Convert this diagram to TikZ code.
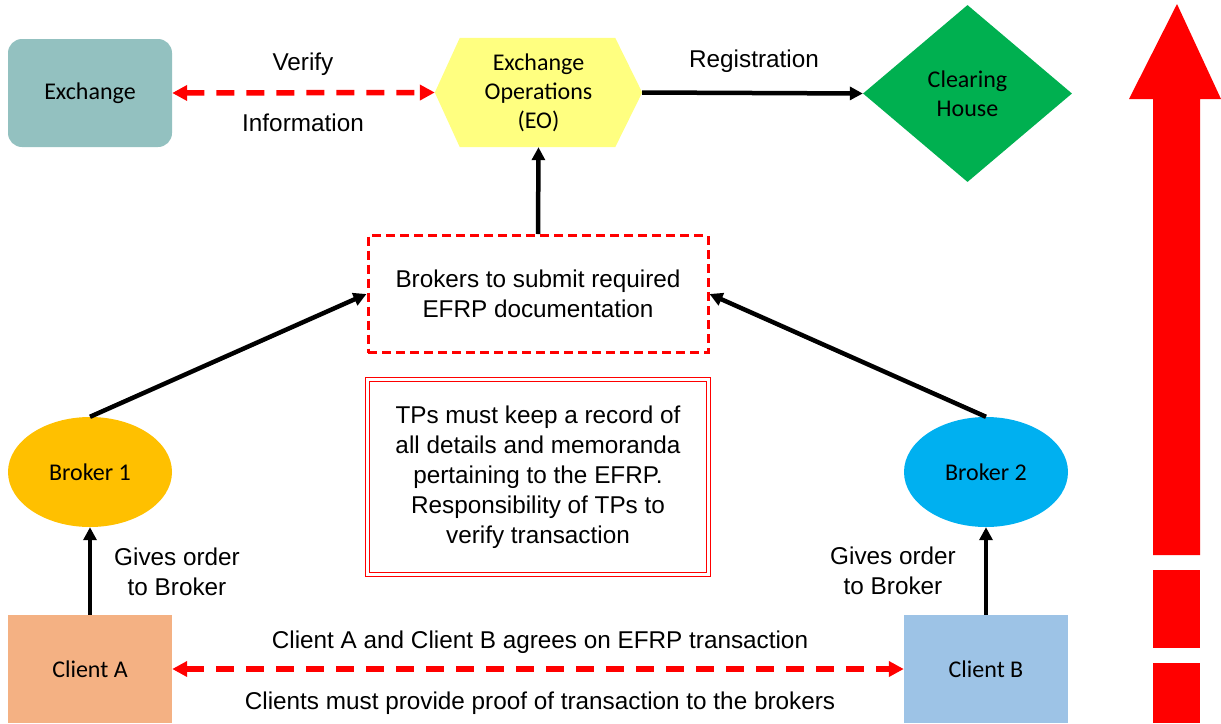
\documentclass[tikz,border=0pt]{standalone}
\usepackage{fontspec}
\setmainfont{Liberation Sans}
\newfontfamily\calfont{Carlito}
\usetikzlibrary{shapes.geometric,arrows.meta}
\definecolor{exch}{HTML}{93C1C0}
\definecolor{eoy}{HTML}{FFFF80}
\definecolor{chg}{HTML}{00B050}
\definecolor{bro1}{HTML}{FFC000}
\definecolor{bro2}{HTML}{00B0F0}
\definecolor{cla}{HTML}{F4B183}
\definecolor{clb}{HTML}{9DC3E6}
\definecolor{redd}{HTML}{FF0000}
\tikzset{
  shapetext/.style={font=\calfont\fontsize{24}{29}\selectfont, align=center, text=black, inner sep=0pt},
  labeltext/.style={font=\fontsize{24.3}{30}\selectfont, align=center, text=black, inner sep=0pt},
  blackarrow/.style={draw=black, line width=4.5pt, -{Triangle[length=13pt,width=13pt]}},
  redarrow/.style={draw=redd, line width=5.5pt, dash pattern=on 18pt off 12pt, {Triangle[length=15pt,width=15pt]}-{Triangle[length=15pt,width=15pt]}},
  clientbox/.style={shapetext, rectangle, minimum width=164pt, minimum height=108pt},
  brokerell/.style={shapetext, ellipse, minimum width=164pt, minimum height=110pt},
}
\begin{document}
\begin{tikzpicture}[x=1pt,y=-1pt]
\useasboundingbox (0,0) rectangle (1221,723);
% Exchange
\node[shapetext, rectangle, rounded corners=14pt, fill=exch, minimum width=164pt, minimum height=108pt] (exchange) at (90,93) {Exchange};
% Exchange Operations hexagon
\node[shapetext, rectangle, minimum width=207pt, minimum height=109pt] (eo) at (538.5,92.5) {};
\fill[eoy] (eo.west) -- ([xshift=25pt]eo.north west) -- ([xshift=-27pt]eo.north east) -- (eo.east) -- ([xshift=-27pt]eo.south east) -- ([xshift=25pt]eo.south west) -- cycle;
\node[shapetext] (eotext) at (eo.center) {Exchange\\Operations\\(EO)};
% Clearing house
\node[shapetext, diamond, fill=chg, minimum width=209pt, minimum height=177pt] (ch) at (967.5,93.5) {Clearing\\House};
% Brokers box
\node[labeltext, rectangle, draw=redd, line width=3pt, dash pattern=on 9pt off 5pt, minimum width=340pt, minimum height=117pt] (submit) at (538,294) {Brokers to submit required\\EFRP documentation};
% TPs box
\node[labeltext, rectangle, draw=redd, line width=1.8pt, double=white, double distance=2.2pt, minimum width=341pt, minimum height=195pt] (tps) at (538,477) {TPs must keep a record of\\all details and memoranda\\pertaining to the EFRP.\\Responsibility of TPs to\\verify transaction};
% Brokers
\node[brokerell, fill=bro1] (b1) at (90,472) {Broker 1};
\node[brokerell, fill=bro2] (b2) at (986,472) {Broker 2};
% Clients
\node[clientbox, fill=cla] (ca) at (90,669) {Client A};
\node[clientbox, fill=clb] (cb) at (986,669) {Client B};
% connectors
\draw[redarrow] (exchange.east) -- (eo.west);
\draw[blackarrow] (eo.east) -- (ch.west);
\draw[blackarrow] (submit.north) -- (eo.south);
\draw[blackarrow] (b1.north) -- (submit.west);
\draw[blackarrow] (b2.north) -- (submit.east);
\draw[blackarrow] (ca.north) -- (b1.south);
\draw[blackarrow] (cb.north) -- (b2.south);
\draw[redarrow] (ca.east) -- (cb.west);
% labels
\node[labeltext] (lverify) at (303,64) {Verify};
\node[labeltext] (linfo) at (303,123) {Information};
\node[labeltext] (lreg) at (754,61) {Registration};
\node[labeltext] (lgo1) at (177,572) {Gives order\\to Broker};
\node[labeltext] (lgo2) at (893,571) {Gives order\\to Broker};
\node[labeltext] (lagree) at (540,642) {Client A and Client B agrees on EFRP transaction};
\node[labeltext] (lproof) at (540,703) {Clients must provide proof of transaction to the brokers};
% big red arrow
\fill[redd] (1177,4) -- (1221,99) -- (1200,99) -- (1200,555) -- (1153,555) -- (1153,99) -- (1129,99) -- cycle;
\fill[redd] (1153,570) rectangle (1200,648);
\fill[redd] (1153,663) rectangle (1200,723);
\end{tikzpicture}
\end{document}
